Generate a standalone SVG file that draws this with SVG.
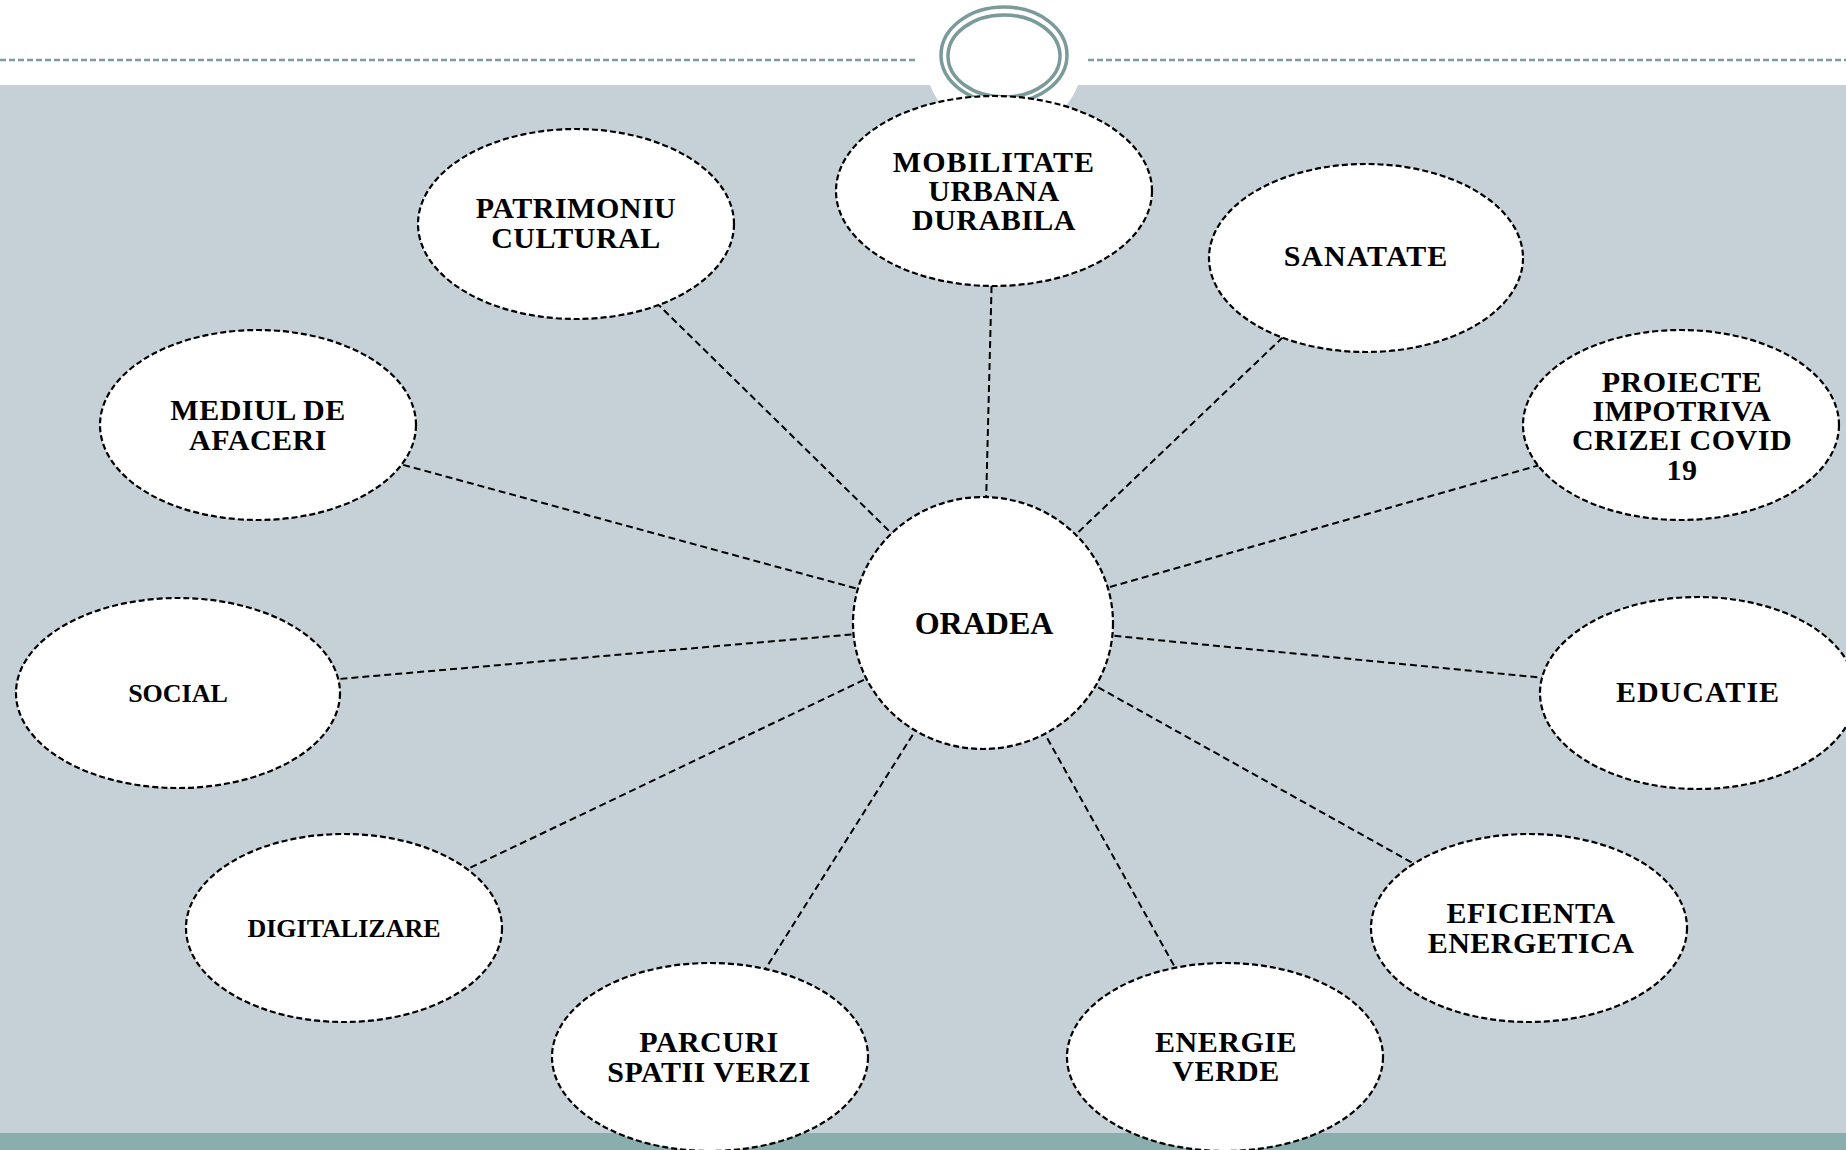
<svg xmlns="http://www.w3.org/2000/svg" width="1846" height="1150" viewBox="0 0 1846 1150">
<style>
.node ellipse{fill:#ffffff;stroke:#000000;stroke-width:2.2;stroke-dasharray:6 3}
.conn line{stroke:#000000;stroke-width:2;stroke-dasharray:7 4}
text{font-family:"Liberation Serif","Times New Roman",serif;font-weight:bold;fill:#000000;text-anchor:middle}
.t30{font-size:30px;letter-spacing:0.5px}
.t28{font-size:30px;letter-spacing:1px}
.t26{font-size:26px}
.ring{fill:none;stroke:#7b9a9a;stroke-width:3.5}
</style>
<rect x="0" y="0" width="1846" height="1150" fill="#ffffff"/>
<rect x="0" y="85" width="1846" height="1048" fill="#c5d1d7"/>
<rect x="0" y="1133" width="1846" height="17" fill="#8aadad"/>
<circle cx="1004" cy="55" r="80" fill="#ffffff"/>
<g id="header">
<line x1="0" y1="60" x2="918" y2="60" stroke="#7f9c9c" stroke-width="2.5" stroke-dasharray="6 3"/>
<line x1="1088" y1="60" x2="1846" y2="60" stroke="#7f9c9c" stroke-width="2.5" stroke-dasharray="6 3"/>
<ellipse class="ring" cx="1004" cy="55" rx="63" ry="48"/>
<ellipse class="ring" cx="1004" cy="56" rx="56" ry="41"/>
</g>
<g id="connectors" class="conn">
<line x1="983" y1="623" x2="994" y2="191"/>
<line x1="983" y1="623" x2="576" y2="224"/>
<line x1="983" y1="623" x2="1366" y2="258"/>
<line x1="983" y1="623" x2="257" y2="425"/>
<line x1="983" y1="623" x2="1681" y2="425"/>
<line x1="983" y1="623" x2="178" y2="693"/>
<line x1="983" y1="623" x2="1698" y2="693"/>
<line x1="983" y1="623" x2="344" y2="928"/>
<line x1="983" y1="623" x2="1529" y2="928"/>
<line x1="983" y1="623" x2="710" y2="1057"/>
<line x1="983" y1="623" x2="1225" y2="1057"/>
</g>
<g id="node-oradea" class="node">
<ellipse cx="983" cy="623" rx="130" ry="126"/>
<text x="984" y="634" style="font-size:32px">ORADEA</text>
</g>
<g id="node-mobilitate" class="node">
<ellipse cx="994" cy="191" rx="158" ry="95"/>
<text class="t30" x="994" y="172" style="letter-spacing:1px">MOBILITATE</text>
<text class="t30" x="994" y="201">URBANA</text>
<text class="t30" x="994" y="230">DURABILA</text>
</g>
<g id="node-patrimoniu" class="node">
<ellipse cx="576" cy="224" rx="158" ry="95"/>
<text class="t30" x="576" y="218">PATRIMONIU</text>
<text class="t30" x="576" y="248">CULTURAL</text>
</g>
<g id="node-sanatate" class="node">
<ellipse cx="1366" cy="258" rx="157" ry="94"/>
<text class="t28" x="1366" y="266">SANATATE</text>
</g>
<g id="node-mediul" class="node">
<ellipse cx="258" cy="425" rx="158" ry="95"/>
<text class="t30" x="258" y="420">MEDIUL DE</text>
<text class="t30" x="258" y="450">AFACERI</text>
</g>
<g id="node-proiecte" class="node">
<ellipse cx="1681" cy="425" rx="158" ry="95"/>
<text class="t30" x="1682" y="392">PROIECTE</text>
<text class="t30" x="1682" y="421">IMPOTRIVA</text>
<text class="t30" x="1682" y="450">CRIZEI COVID</text>
<text class="t30" x="1682" y="480">19</text>
</g>
<g id="node-social" class="node">
<ellipse cx="178" cy="693" rx="162" ry="95"/>
<text class="t26" x="178" y="702">SOCIAL</text>
</g>
<g id="node-educatie" class="node">
<ellipse cx="1698" cy="693" rx="158" ry="96"/>
<text class="t28" x="1698" y="702">EDUCATIE</text>
</g>
<g id="node-digitalizare" class="node">
<ellipse cx="344" cy="928" rx="158" ry="94"/>
<text class="t26" x="344" y="937">DIGITALIZARE</text>
</g>
<g id="node-eficienta" class="node">
<ellipse cx="1529" cy="928" rx="158" ry="94"/>
<text class="t30" x="1531" y="923">EFICIENTA</text>
<text class="t30" x="1531" y="953">ENERGETICA</text>
</g>
<g id="node-parcuri" class="node">
<ellipse cx="710" cy="1057" rx="158" ry="94"/>
<text class="t30" x="709" y="1052">PARCURI</text>
<text class="t30" x="709" y="1082">SPATII VERZI</text>
</g>
<g id="node-energie" class="node">
<ellipse cx="1225" cy="1057" rx="158" ry="94"/>
<text class="t30" x="1226" y="1052">ENERGIE</text>
<text class="t30" x="1226" y="1081">VERDE</text>
</g>
</svg>
